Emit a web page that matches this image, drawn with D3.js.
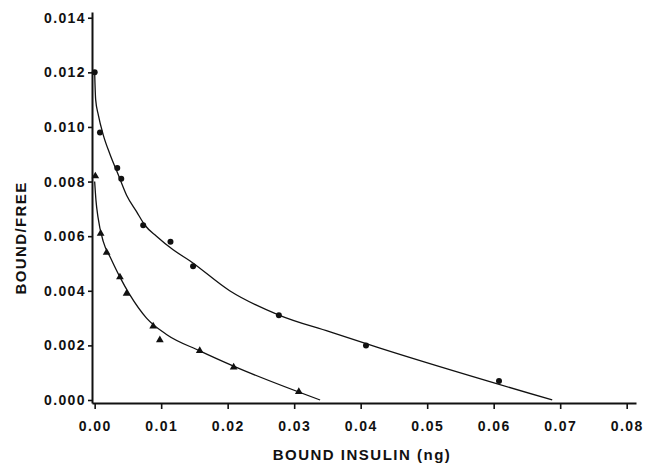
<!DOCTYPE html>
<html>
<head>
<meta charset="utf-8">
<script src="https://cdn.jsdelivr.net/npm/d3@7"></script>
<style>
  body { margin: 0; background: #fff; }
  svg text { font-family: "Liberation Sans", Arial, sans-serif; fill: #111; }
</style>
</head>
<body>
<div class="canvas"></div>
<script>
// tick values
const xTicks = [0, 0.01, 0.02, 0.03, 0.04, 0.05, 0.06, 0.07, 0.08];
const yTicks = [0, 0.002, 0.004, 0.006, 0.008, 0.010, 0.012, 0.014];

// circles (upper set)
const circleX = [0.0000, 0.0008, 0.0034, 0.0040, 0.0073, 0.0114, 0.0148, 0.0277, 0.0408, 0.0608];
const circleY = [0.0120, 0.0098, 0.0085, 0.0081, 0.0064, 0.0058, 0.0049, 0.0031, 0.0020, 0.0007];

// triangles (lower set)
const triX = [0.0001, 0.0009, 0.0018, 0.0038, 0.0048, 0.0088, 0.0098, 0.0158, 0.0209, 0.0307];
const triY = [0.0082, 0.0061, 0.0054, 0.0045, 0.0039, 0.0027, 0.0022, 0.0018, 0.0012, 0.0003];

// fitted curves
const upperCurveX = [0.0000, 0.00015, 0.00054, 0.0013, 0.0023, 0.00355, 0.0048, 0.0063, 0.00756, 0.0093, 0.0118, 0.0143, 0.0203, 0.0278, 0.0353, 0.0429, 0.0688];
const upperCurveY = [0.0120, 0.0110, 0.01045, 0.0097, 0.0090, 0.00825, 0.0075, 0.0069, 0.0064, 0.0060, 0.0055, 0.0051, 0.0040, 0.0031, 0.0025, 0.0019, 0.0000];
const lowerCurveX = [0.0000, 0.0002, 0.0005, 0.0013, 0.0024, 0.0038, 0.0053, 0.0078, 0.0108, 0.0158, 0.0208, 0.0339];
const lowerCurveY = [0.0080, 0.0073, 0.0067, 0.0058, 0.0052, 0.0045, 0.00385, 0.0030, 0.0024, 0.0018, 0.00125, 0.0000];

const zip = (xs, ys) => xs.map((v, i) => ({ x: v, y: ys[i] }));

const width = 657;
const height = 467;

const svg = d3.select('.canvas')
  .append('svg')
  .attr('width', width)
  .attr('height', height);

// scales (domain slightly wider than tick range, like the original frame)
const x = d3.scaleLinear().domain([-0.0004, 0.0814]).range([92, 636]);
const y = d3.scaleLinear().domain([-0.00011, 0.01421]).range([403, 12]);

// axes
const xAxis = d3.axisBottom(x)
  .tickValues(xTicks)
  .tickSize(6)
  .tickSizeOuter(0)
  .tickPadding(12)
  .tickFormat(d3.format('.2f'));

const yAxis = d3.axisLeft(y)
  .tickValues(yTicks)
  .tickSize(4)
  .tickSizeOuter(0)
  .tickPadding(2)
  .tickFormat(d3.format('.3f'));

const xaxisGroup = svg.append('g')
  .attr('transform', `translate(0, ${y.range()[0]})`)
  .call(xAxis);

const yaxisGroup = svg.append('g')
  .attr('transform', `translate(${x.range()[0]}, 0)`)
  .call(yAxis);

[xaxisGroup, yaxisGroup].forEach(g => {
  g.select('.domain').attr('stroke', '#111').attr('stroke-width', 2);
  g.selectAll('.tick line').attr('stroke', '#111').attr('stroke-width', 1.6);
  g.selectAll('text')
    .attr('font-size', 14)
    .attr('font-weight', 'bold')
    .attr('letter-spacing', 1.4)
    .attr('fill', '#111');
});

// axis titles
svg.append('text')
  .attr('x', 362)
  .attr('y', 460)
  .attr('text-anchor', 'middle')
  .attr('font-size', 15)
  .attr('letter-spacing', 1.5)
  .attr('font-weight', 'bold')
  .text('BOUND INSULIN (ng)');

svg.append('text')
  .attr('transform', 'translate(26, 238) rotate(-90)')
  .attr('text-anchor', 'middle')
  .attr('font-size', 15)
  .attr('letter-spacing', 1.4)
  .attr('font-weight', 'bold')
  .text('BOUND/FREE');

// curves
const line = d3.line()
  .curve(d3.curveMonotoneX)
  .x(d => x(d.x))
  .y(d => y(d.y));

[zip(upperCurveX, upperCurveY), zip(lowerCurveX, lowerCurveY)].forEach(data => {
  svg.append('path')
    .datum(data)
    .attr('fill', 'none')
    .attr('stroke', '#111')
    .attr('stroke-width', 1.3)
    .attr('d', line);
});

// markers
svg.selectAll('circle.pt')
  .data(zip(circleX, circleY))
  .enter()
  .append('circle')
    .attr('class', 'pt')
    .attr('r', 3)
    .attr('cx', d => x(d.x))
    .attr('cy', d => y(d.y))
    .attr('fill', '#111');

const tri = d3.symbol().type(d3.symbolTriangle).size(26);

svg.selectAll('path.tri')
  .data(zip(triX, triY))
  .enter()
  .append('path')
    .attr('class', 'tri')
    .attr('d', tri)
    .attr('transform', d => `translate(${x(d.x)}, ${y(d.y)})`)
    .attr('fill', '#111');
</script>
</body>
</html>
